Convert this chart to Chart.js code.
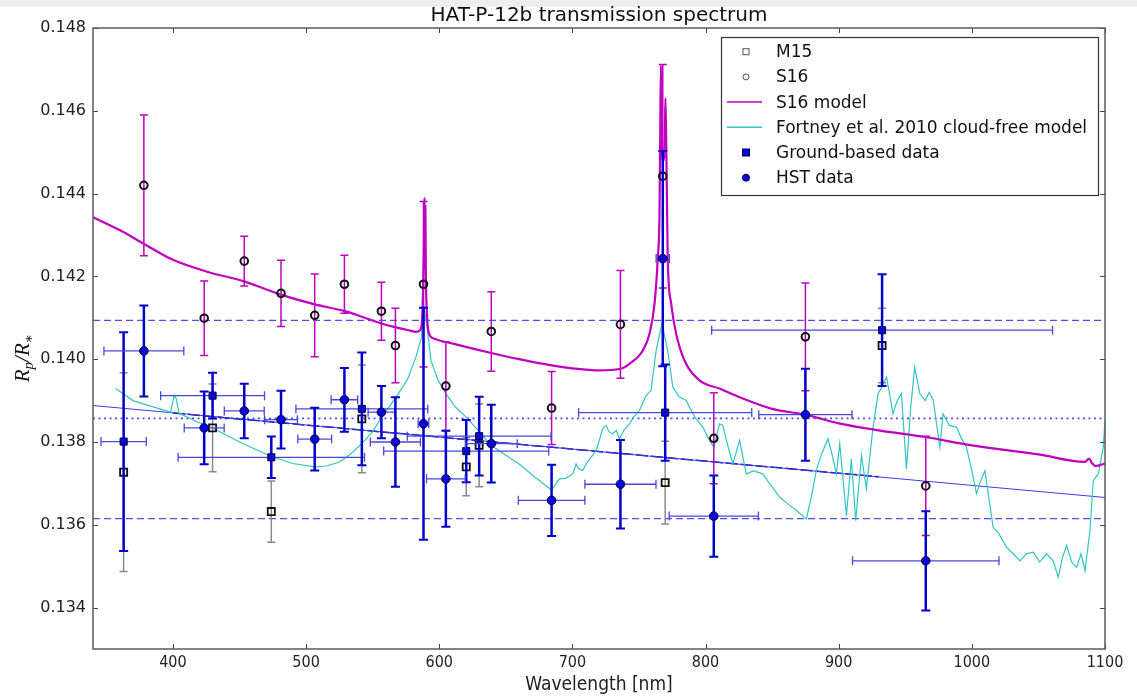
<!DOCTYPE html>
<html>
<head>
<meta charset="utf-8">
<script src="https://cdn.jsdelivr.net/npm/chart.js@4.4.1/dist/chart.umd.min.js"></script>
<style>
  html, body { margin: 0; padding: 0; background: #fff; }
  #band { position: absolute; left: 0; top: 0; width: 1137px; height: 7px; background: #eeeeee; }
  #wrap { position: absolute; left: 0; top: 0; width: 1137px; height: 696px; }
</style>
</head>
<body>
<div id="band"></div>
<div id="wrap"><canvas id="myChart" width="1137" height="696"></canvas></div>
<script>
// axis ticks
const xTicks = [400, 500, 600, 700, 800, 900, 1000, 1100];
const yTicks = [0.134, 0.136, 0.138, 0.140, 0.142, 0.144, 0.146, 0.148];

// HST / S16 spectral bins (nm)
const binWave = [378.2, 423.5, 453.6, 481.2, 506.5, 528.8, 556.6, 567.1, 588.2, 605.0, 639.1, 684.4, 736.1, 767.9, 806.2, 875.0, 965.4];
const binHalfWidth = [30, 15, 15, 12.3, 12.7, 10, 10, 18.8, 4, 14.5, 19.5, 25, 26.7, 5, 33.5, 35, 55];

const hstDepth = [0.14020, 0.13834, 0.13875, 0.13854, 0.13807, 0.13902, 0.13872, 0.13800, 0.13844, 0.13711, 0.13796, 0.13659, 0.13698, 0.14243, 0.13621, 0.13866, 0.13513];
const hstErr = [0.0011, 0.00088, 0.00066, 0.0007, 0.00076, 0.00077, 0.00063, 0.00108, 0.0028, 0.00116, 0.00094, 0.00086, 0.00107, 0.0026, 0.00098, 0.00111, 0.0012];

const s16Depth = [0.14420, 0.14099, 0.14237, 0.14159, 0.14106, 0.14181, 0.14116, 0.14033, 0.14181, 0.13935, 0.14067, 0.13882, 0.14084, 0.14442, 0.13809, 0.14054, 0.13694];
const s16Err = [0.0017, 0.0009, 0.0006, 0.0008, 0.001, 0.0007, 0.0007, 0.0009, 0.002, 0.00107, 0.00096, 0.00088, 0.0013, 0.0027, 0.0011, 0.0013, 0.0012];

// ground-based bins (nm)
const groundWave = [363.0, 429.8, 473.9, 541.9, 620.3, 630.0, 769.7, 932.6];
const groundHalfWidth = [17, 39, 70, 49.5, 62, 54, 65, 128];
const groundDepth = [0.13801, 0.13912, 0.13763, 0.13880, 0.13778, 0.13814, 0.13871, 0.14070];
const groundErr = [0.00264, 0.00055, 0.0005, 0.00136, 0.00075, 0.00095, 0.00116, 0.00135];

const m15Depth = [0.13727, 0.13834, 0.13632, 0.13856, 0.13740, 0.13792, 0.13702, 0.14033];
const m15Err = [0.0024, 0.00106, 0.00074, 0.0013, 0.0007, 0.001, 0.001, 0.0009];

// horizontal reference levels and linear fit
const refLevels = [0.14094, 0.13857, 0.13615];
const fitWave = [340, 1100];
const fitDepth = [0.13888, 0.13666];
const fitShortWave = [400, 930];
const fitShortDepth = [0.13870, 0.13716];

// S16 model
const s16ModelWave = [340, 360, 378, 400, 425, 453.4, 481, 506, 529, 556, 566, 577, 583, 585.5, 587, 588.4, 589.0, 589.3, 589.6, 590.0, 590.8, 592, 596, 611, 639, 660, 684.4, 700, 720, 736, 742.9, 752.9, 758, 761.7, 764.2, 765.4, 766.0, 766.5, 767.0, 768.2, 769.3, 769.9, 770.5, 771.6, 774.2, 777.9, 784.2, 795.5, 810.5, 825.6, 850, 875, 900, 930, 965, 1000, 1050, 1085, 1088, 1090, 1093, 1100];
const s16ModelDepth = [0.14343, 0.14312, 0.14279, 0.14240, 0.14212, 0.14188, 0.14156, 0.14133, 0.14116, 0.14087, 0.14078, 0.14070, 0.14066, 0.14070, 0.14090, 0.14250, 0.14390, 0.14220, 0.14370, 0.14200, 0.14110, 0.14066, 0.14050, 0.14037, 0.14015, 0.14000, 0.13985, 0.13978, 0.13973, 0.13977, 0.13989, 0.14021, 0.14062, 0.14134, 0.14247, 0.14344, 0.14550, 0.14710, 0.14550, 0.14480, 0.14520, 0.14630, 0.14520, 0.14247, 0.14134, 0.14062, 0.13997, 0.13949, 0.13929, 0.13908, 0.13880, 0.13866, 0.13845, 0.13828, 0.13812, 0.13792, 0.13770, 0.13752, 0.13760, 0.13750, 0.13742, 0.13748];

// Fortney et al. 2010 cloud-free model
const fortneyWave = [357.0, 370, 385, 398.3, 399.5, 400.8, 402.5, 404.5, 405.8, 415, 429.8, 450, 474, 490, 506.5, 515, 524.8, 533, 541.9, 550, 556.6, 567.4, 576, 582.5, 586.5, 588.2, 589.8, 591.2, 593.8, 599, 605, 612, 620.3, 630, 639, 650, 660, 672, 684.4, 690.2, 695, 700.3, 702.8, 705, 707.7, 711, 714, 718, 722.8, 725.3, 727.5, 730.3, 733, 735.3, 739, 742.9, 746, 750.4, 755, 759.1, 762.9, 767.3, 771.6, 775.4, 780, 785.5, 792, 798, 802, 806.2, 810.5, 813, 816, 820.5, 825.6, 830.6, 836, 843, 848, 855.6, 862, 868, 875.7, 879, 883.2, 887, 892, 895, 898.2, 900.8, 903, 905.8, 909.5, 912.8, 917.1, 920.8, 925.8, 929.6, 932, 935.9, 938, 940.8, 944, 947.1, 950.9, 954, 957.1, 960.9, 965, 968, 971, 976, 978.4, 983, 988.5, 992, 996, 1000, 1003.5, 1006, 1009.8, 1013, 1016, 1020, 1026, 1031, 1036.1, 1041, 1046.1, 1051, 1056, 1061.1, 1064.9, 1068, 1071.2, 1075, 1078.7, 1082, 1085, 1088.7, 1091.2, 1095, 1098.7, 1100];
const fortneyDepth = [0.13929, 0.13900, 0.13885, 0.13872, 0.13890, 0.13912, 0.13905, 0.13870, 0.13868, 0.13853, 0.13834, 0.13800, 0.13765, 0.13748, 0.13740, 0.13742, 0.13751, 0.13770, 0.13796, 0.13825, 0.13859, 0.13908, 0.13950, 0.14005, 0.14050, 0.14134, 0.14100, 0.14070, 0.13997, 0.13950, 0.13917, 0.13885, 0.13860, 0.13825, 0.13792, 0.13768, 0.13747, 0.13715, 0.13684, 0.13711, 0.13712, 0.13723, 0.13747, 0.13735, 0.13731, 0.13750, 0.13763, 0.13780, 0.13832, 0.13840, 0.13825, 0.13820, 0.13828, 0.13808, 0.13830, 0.13844, 0.13860, 0.13876, 0.13910, 0.13925, 0.14021, 0.14086, 0.14021, 0.13933, 0.13910, 0.13900, 0.13860, 0.13836, 0.13810, 0.13787, 0.13844, 0.13840, 0.13800, 0.13747, 0.13804, 0.13723, 0.13730, 0.13723, 0.13700, 0.13667, 0.13650, 0.13635, 0.13614, 0.13660, 0.13731, 0.13770, 0.13808, 0.13770, 0.13723, 0.13796, 0.13720, 0.13622, 0.13759, 0.13610, 0.13767, 0.13687, 0.13836, 0.13917, 0.13930, 0.13957, 0.13920, 0.13868, 0.13900, 0.13917, 0.13735, 0.13880, 0.13981, 0.13917, 0.13900, 0.13920, 0.13901, 0.13787, 0.13868, 0.13840, 0.13836, 0.13810, 0.13787, 0.13730, 0.13675, 0.13700, 0.13731, 0.13660, 0.13594, 0.13580, 0.13546, 0.13530, 0.13513, 0.13530, 0.13534, 0.13510, 0.13530, 0.13513, 0.13473, 0.13520, 0.13550, 0.13510, 0.13497, 0.13530, 0.13489, 0.13586, 0.13707, 0.13723, 0.13787, 0.13852];

const pts = (xs, ys) => xs.map((x, i) => ({ x: x, y: ys[i] }));
const hLine = v => [{ x: 340, y: v }, { x: 1100, y: v }];

const BLUE_FILL = '#0a0ad8';
const MAGENTA = '#bf00bf';
const CYAN = '#33c4c4';

const errorBarPlugin = {
  id: 'errorBars',
  beforeDatasetDraw(chart, args) {
    const ds = chart.data.datasets[args.index];
    const eb = ds.errorBars;
    if (!eb) return;
    const { ctx, chartArea: a, scales: { x, y } } = chart;
    ctx.save();
    ctx.beginPath();
    ctx.rect(a.left, a.top, a.right - a.left, a.bottom - a.top);
    ctx.clip();
    ds.data.forEach((p, i) => {
      const px = x.getPixelForValue(p.x);
      const py = y.getPixelForValue(p.y);
      if (eb.xErr) {
        const l = x.getPixelForValue(p.x - eb.xErr[i]);
        const r = x.getPixelForValue(p.x + eb.xErr[i]);
        ctx.strokeStyle = eb.xColor;
        ctx.lineWidth = eb.xWidth;
        ctx.beginPath();
        ctx.moveTo(l, py); ctx.lineTo(r, py);
        ctx.moveTo(l, py - eb.cap); ctx.lineTo(l, py + eb.cap);
        ctx.moveTo(r, py - eb.cap); ctx.lineTo(r, py + eb.cap);
        ctx.stroke();
      }
      if (eb.yErr) {
        const t = y.getPixelForValue(p.y + eb.yErr[i]);
        const b = y.getPixelForValue(p.y - eb.yErr[i]);
        ctx.strokeStyle = eb.yColor;
        ctx.lineWidth = eb.yWidth;
        ctx.beginPath();
        ctx.moveTo(px, t); ctx.lineTo(px, b);
        ctx.stroke();
        ctx.lineWidth = eb.capWidth;
        ctx.beginPath();
        ctx.moveTo(px - eb.cap, t); ctx.lineTo(px + eb.cap, t);
        ctx.moveTo(px - eb.cap, b); ctx.lineTo(px + eb.cap, b);
        ctx.stroke();
      }
    });
    ctx.restore();
  }
};

const frameTicksPlugin = {
  id: 'frameTicks',
  afterDatasetsDraw(chart) {
    const { ctx, chartArea: a, scales: { x, y } } = chart;
    ctx.save();
    ctx.strokeStyle = '#444';
    ctx.lineWidth = 1;
    ctx.beginPath();
    x.ticks.forEach(t => {
      const px = Math.round(x.getPixelForValue(t.value)) + 0.5;
      ctx.moveTo(px, a.bottom); ctx.lineTo(px, a.bottom - 5);
      ctx.moveTo(px, a.top); ctx.lineTo(px, a.top + 5);
    });
    y.ticks.forEach(t => {
      const py = Math.round(y.getPixelForValue(t.value)) + 0.5;
      ctx.moveTo(a.left, py); ctx.lineTo(a.left + 5, py);
      ctx.moveTo(a.right, py); ctx.lineTo(a.right - 5, py);
    });
    ctx.stroke();
    ctx.strokeStyle = '#5a5a5a';
    ctx.lineWidth = 1.5;
    ctx.strokeRect(a.left, a.top, a.right - a.left, a.bottom - a.top);
    ctx.restore();
  }
};

const legendEntries = [0, 1, 2, 3, 4, 5];

const textPlugin = {
  id: 'texts',
  afterDraw(chart) {
    const { ctx, chartArea: a } = chart;
    ctx.save();
    // title
    ctx.fillStyle = '#111';
    ctx.font = '20px "DejaVu Sans"';
    ctx.textAlign = 'center';
    ctx.textBaseline = 'middle';
    ctx.fillText('HAT-P-12b transmission spectrum', (a.left + a.right) / 2, 16);

    // y-axis label R_p / R_*
    ctx.save();
    ctx.translate(29, 358);
    ctx.rotate(-Math.PI / 2);
    ctx.textAlign = 'left';
    ctx.textBaseline = 'alphabetic';
    const parts = [
      { t: 'R', f: 'italic 21px "Liberation Serif"', dy: 0 },
      { t: 'p', f: 'italic 15px "Liberation Serif"', dy: 4 },
      { t: '/', f: 'italic 21px "Liberation Serif"', dy: 0 },
      { t: 'R', f: 'italic 21px "Liberation Serif"', dy: 0 },
      { t: '\u2217', f: '14px "DejaVu Serif"', dy: 4 }
    ];
    let total = 0;
    parts.forEach(p => { ctx.font = p.f; p.w = ctx.measureText(p.t).width; total += p.w; });
    let cx = -total / 2;
    parts.forEach(p => { ctx.font = p.f; ctx.fillText(p.t, cx, p.dy); cx += p.w; });
    ctx.restore();

    // legend box
    const x0 = a.right - 384, y0 = a.top + 9, w = 377, h = 158;
    ctx.fillStyle = '#fff';
    ctx.fillRect(x0, y0, w, h);
    ctx.strokeStyle = '#333';
    ctx.lineWidth = 1.2;
    ctx.strokeRect(x0 + 0.5, y0 + 0.5, w, h);
    ctx.font = '17px "DejaVu Sans"';
    ctx.textAlign = 'left';
    ctx.textBaseline = 'middle';
    legendEntries.forEach((di, i) => {
      const ds = chart.data.datasets[di];
      const cy = y0 + 14.7 + i * 25.2;
      const mx = x0 + 25;
      if (ds.showLine) {
        ctx.strokeStyle = ds.borderColor;
        ctx.lineWidth = 1.5;
        ctx.beginPath(); ctx.moveTo(x0 + 6, cy); ctx.lineTo(x0 + 41, cy); ctx.stroke();
      } else if (ds.pointStyle === 'rect') {
        const s = ds.legendSize;
        ctx.fillStyle = ds.backgroundColor;
        ctx.fillRect(mx - s / 2, cy - s / 2, s, s);
        ctx.strokeStyle = ds.legendEdge;
        ctx.lineWidth = 1;
        ctx.strokeRect(mx - s / 2, cy - s / 2, s, s);
      } else {
        const s = ds.legendSize;
        ctx.beginPath(); ctx.arc(mx, cy, s / 2, 0, Math.PI * 2);
        ctx.fillStyle = ds.backgroundColor; ctx.fill();
        ctx.strokeStyle = ds.legendEdge; ctx.lineWidth = 1; ctx.stroke();
      }
      ctx.fillStyle = '#111';
      ctx.fillText(ds.label, x0 + 55, cy + 1);
    });
    ctx.restore();
  }
};

Chart.defaults.font.family = '"DejaVu Sans"';
Chart.defaults.color = '#222';

const ctx = document.getElementById('myChart').getContext('2d');
const myChart = new Chart(ctx, {
  type: 'scatter',
  data: {
    datasets: [
      {
        label: 'M15',
        data: pts(groundWave, m15Depth),
        pointStyle: 'rect',
        pointRadius: 5,
        backgroundColor: 'rgba(255,255,255,0)',
        borderColor: '#111',
        borderWidth: 1.8,
        legendSize: 6,
        legendEdge: '#555',
        order: 4,
        errorBars: { yErr: m15Err, yColor: '#8a8a8a', yWidth: 1.5, capWidth: 1.5, cap: 4 }
      },
      {
        label: 'S16',
        data: pts(binWave, s16Depth),
        pointStyle: 'circle',
        pointRadius: 3.8,
        backgroundColor: 'rgba(255,255,255,0)',
        borderColor: '#111',
        borderWidth: 2,
        legendSize: 6,
        legendEdge: '#555',
        order: 3,
        errorBars: { yErr: s16Err, yColor: MAGENTA, yWidth: 1.5, capWidth: 1.5, cap: 4 }
      },
      {
        label: 'S16 model',
        data: pts(s16ModelWave, s16ModelDepth),
        showLine: true,
        cubicInterpolationMode: 'monotone',
        borderColor: MAGENTA,
        borderWidth: 2.2,
        pointRadius: 0,
        order: 5
      },
      {
        label: 'Fortney et al. 2010 cloud-free model',
        data: pts(fortneyWave, fortneyDepth),
        showLine: true,
        borderColor: CYAN,
        borderWidth: 1.2,
        pointRadius: 0,
        order: 6
      },
      {
        label: 'Ground-based data',
        data: pts(groundWave, groundDepth),
        pointStyle: 'rect',
        pointRadius: 5,
        backgroundColor: BLUE_FILL,
        borderColor: '#000040',
        borderWidth: 1,
        legendSize: 7,
        legendEdge: '#000040',
        order: 2,
        errorBars: { xErr: groundHalfWidth, xColor: '#4848e0', xWidth: 1.3, yErr: groundErr, yColor: '#0000cc', yWidth: 2.5, capWidth: 2, cap: 4.5 }
      },
      {
        label: 'HST data',
        data: pts(binWave, hstDepth),
        pointStyle: 'circle',
        pointRadius: 4.3,
        backgroundColor: BLUE_FILL,
        borderColor: '#000040',
        borderWidth: 1,
        legendSize: 7,
        legendEdge: '#000040',
        order: 1,
        errorBars: { xErr: binHalfWidth, xColor: '#4848e0', xWidth: 1.3, yErr: hstErr, yColor: '#0000cc', yWidth: 2.5, capWidth: 2, cap: 4.5 }
      },
      {
        label: 'fit',
        data: pts(fitWave, fitDepth),
        showLine: true,
        borderColor: '#3a3af0',
        borderWidth: 1,
        pointRadius: 0,
        order: 7
      },
      {
        label: 'fit short',
        data: pts(fitShortWave, fitShortDepth),
        showLine: true,
        borderColor: '#0000a0',
        borderWidth: 1.5,
        borderDash: [12, 3],
        pointRadius: 0,
        order: 7
      },
      {
        label: 'upper',
        data: hLine(refLevels[0]),
        showLine: true,
        borderColor: '#4d4dff',
        borderWidth: 1.2,
        borderDash: [7, 4],
        pointRadius: 0,
        order: 8
      },
      {
        label: 'mean',
        data: hLine(refLevels[1]),
        showLine: true,
        borderColor: '#4d4dff',
        borderWidth: 1.6,
        borderDash: [2, 3.5],
        pointRadius: 0,
        order: 8
      },
      {
        label: 'lower',
        data: hLine(refLevels[2]),
        showLine: true,
        borderColor: '#4d4dff',
        borderWidth: 1.2,
        borderDash: [7, 4],
        pointRadius: 0,
        order: 8
      }
    ]
  },
  options: {
    responsive: false,
    animation: false,
    events: [],
    layout: { padding: { top: 28, right: 32, left: 0, bottom: 0 } },
    plugins: {
      legend: { display: false },
      tooltip: { enabled: false }
    },
    elements: { line: { tension: 0 } },
    scales: {
      x: {
        type: 'linear',
        min: 340,
        max: 1100,
        grid: { display: false, drawTicks: false },
        border: { display: false },
        afterBuildTicks: s => { s.ticks = xTicks.map(v => ({ value: v })); },
        afterFit: s => { s.height = 47; },
        ticks: {
          autoSkip: false,
          maxRotation: 0,
          padding: 4,
          color: '#222',
          font: { family: '"DejaVu Sans Condensed"', size: 16 },
          callback: v => String(v)
        },
        title: {
          display: true,
          text: 'Wavelength [nm]',
          color: '#222',
          padding: { top: 0, bottom: 0 },
          font: { family: '"DejaVu Sans Condensed"', size: 19 }
        }
      },
      y: {
        type: 'linear',
        min: 0.133,
        max: 0.148,
        grid: { display: false, drawTicks: false },
        border: { display: false },
        afterBuildTicks: s => { s.ticks = yTicks.map(v => ({ value: v })); },
        afterFit: s => { s.width = 93; },
        ticks: {
          autoSkip: false,
          padding: 7,
          color: '#222',
          font: { size: 16 },
          callback: v => Number(v).toFixed(3)
        }
      }
    }
  },
  plugins: [errorBarPlugin, frameTicksPlugin, textPlugin]
});
</script>
</body>
</html>
